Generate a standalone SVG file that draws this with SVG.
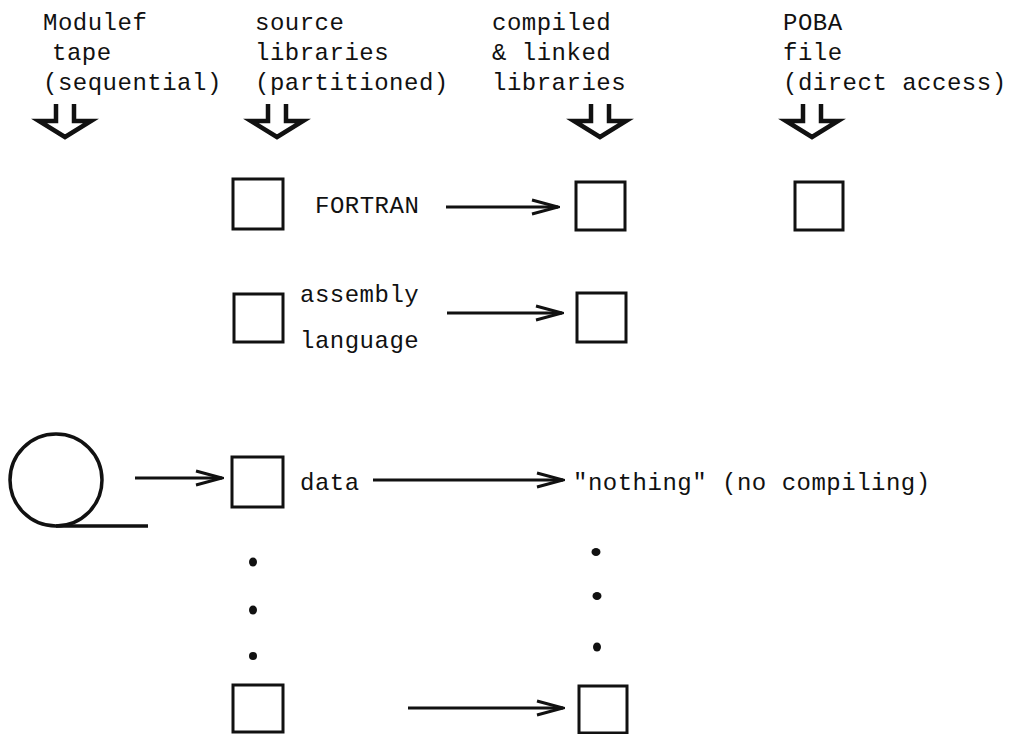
<svg xmlns="http://www.w3.org/2000/svg" width="1009" height="734" viewBox="0 0 1009 734">
<style>
text{font-family:"Liberation Mono","Courier New",monospace;font-size:24px;letter-spacing:0.5px;fill:#111}
.box{fill:none;stroke:#111;stroke-width:3}
.hollow{fill:none;stroke:#111;stroke-width:4.5;stroke-linejoin:miter}
.conn{stroke:#111;stroke-width:3;fill:none}
.dot{fill:#111}
</style>
<defs>
<marker id="chev" viewBox="0 0 30 18" markerWidth="30" markerHeight="18" refX="28" refY="9" orient="auto" markerUnits="userSpaceOnUse">
<path d="M2,2 L28,9 L2,16" fill="none" stroke="#111" stroke-width="3"/>
</marker>
<path id="bigdown" d="M-9,0 V17 H-26 L0,33 L26,17 H9 V0"/>
</defs>
<rect width="1009" height="734" fill="#fff"/>
<g id="hdr-tape">
<text x="43" y="30">Modulef</text>
<text x="52" y="60">tape</text>
<text x="43" y="90">(sequential)</text>
<use href="#bigdown" class="hollow" x="65" y="104"/>
</g>
<g id="hdr-source">
<text x="255" y="30">source</text>
<text x="255" y="60">libraries</text>
<text x="255" y="90">(partitioned)</text>
<use href="#bigdown" class="hollow" x="277" y="104"/>
</g>
<g id="hdr-compiled">
<text x="492" y="30">compiled</text>
<text x="492" y="60">&amp; linked</text>
<text x="492" y="90">libraries</text>
<use href="#bigdown" class="hollow" x="600" y="104"/>
</g>
<g id="hdr-poba">
<text x="783" y="30">POBA</text>
<text x="783" y="60">file</text>
<text x="783" y="90">(direct access)</text>
<use href="#bigdown" class="hollow" x="812" y="104"/>
</g>
<g id="src-fortran">
<rect class="box" x="233" y="179" width="50" height="50"/>
<text x="315" y="213">FORTRAN</text>
</g>
<g id="lib-fortran"><rect class="box" x="576" y="182" width="49" height="48"/></g>
<g id="poba-file"><rect class="box" x="795" y="182" width="48" height="48"/></g>
<g id="src-asm">
<rect class="box" x="234" y="294" width="49" height="48"/>
<text x="300" y="302">assembly</text>
<text x="300" y="348">language</text>
</g>
<g id="lib-asm"><rect class="box" x="577" y="293" width="49" height="49"/></g>
<g id="tape">
<circle cx="56" cy="480" r="46" fill="none" stroke="#111" stroke-width="3.5"/>
<line x1="56" y1="526" x2="148" y2="526" stroke="#111" stroke-width="3.5"/>
</g>
<g id="src-data">
<rect class="box" x="232" y="457" width="51" height="50"/>
<text x="300" y="490">data</text>
</g>
<g id="nothing"><text x="573" y="490">"nothing" (no compiling)</text></g>
<g id="dots-left">
<ellipse class="dot" cx="253" cy="562" rx="4" ry="4.5"/>
<ellipse class="dot" cx="253" cy="610" rx="4" ry="4.5"/>
<ellipse class="dot" cx="253" cy="656" rx="4" ry="4"/>
</g>
<g id="dots-right">
<ellipse class="dot" cx="596" cy="552" rx="4.5" ry="4"/>
<ellipse class="dot" cx="597" cy="596" rx="4.5" ry="4"/>
<ellipse class="dot" cx="597" cy="647" rx="4" ry="4.5"/>
</g>
<g id="src-last"><rect class="box" x="233" y="685" width="50" height="47"/></g>
<g id="lib-last"><rect class="box" x="579" y="686" width="48" height="47"/></g>
<g id="connectors">
<line class="conn" x1="446" y1="207" x2="558" y2="207" marker-end="url(#chev)"/>
<line class="conn" x1="447" y1="313" x2="562" y2="313" marker-end="url(#chev)"/>
<line class="conn" x1="135" y1="478" x2="222" y2="478" marker-end="url(#chev)"/>
<line class="conn" x1="373" y1="480" x2="563" y2="480" marker-end="url(#chev)"/>
<line class="conn" x1="408" y1="708" x2="563" y2="708" marker-end="url(#chev)"/>
</g>
</svg>
